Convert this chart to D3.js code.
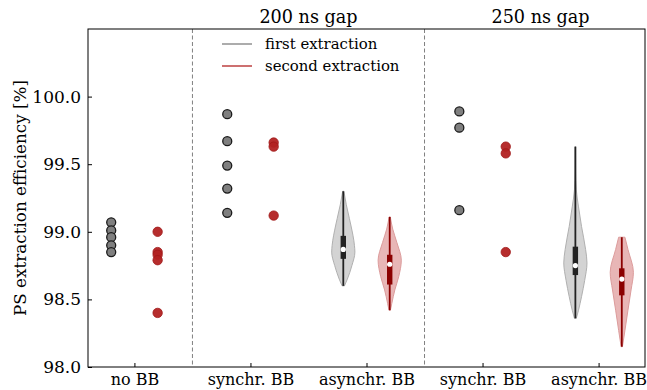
<!DOCTYPE html>
<html>
<head>
<meta charset="utf-8">
<script src="https://cdn.jsdelivr.net/npm/d3@7/dist/d3.min.js"></script>
<style>
  html, body { margin: 0; padding: 0; background: #fff; }
  svg { display: block; font-family: "DejaVu Serif", serif; }
</style>
</head>
<body>
<svg id="chart" width="647" height="390"></svg>
<script>
// Category slots along the x axis
const categories = ["no BB", "synchr. BB", "asynchr. BB", "synchr. BB", "asynchr. BB"];
const groupTitles = ["200 ns gap", "250 ns gap"];
const groupCenters = [1.5, 3.5];
const separators = [0.5, 2.5];
const yTicks = [98.0, 98.5, 99.0, 99.5, 100.0];
const legendLabels = ["first extraction", "second extraction"];

// Individual measurements (%)
const firstNoBB   = [99.07, 99.01, 98.96, 98.90, 98.85];
const secondNoBB  = [99.00, 98.85, 98.83, 98.79, 98.40];
const first200Sync  = [99.87, 99.67, 99.49, 99.32, 99.14];
const second200Sync = [99.66, 99.63, 99.12];
const first250Sync  = [99.89, 99.77, 99.16];
const second250Sync = [99.63, 99.58, 98.85];

// Violin summaries: min, q1, median, q3, max (%)
const first200Async  = [98.60, 98.80, 98.87, 98.97, 99.30];
const second200Async = [98.42, 98.61, 98.76, 98.83, 99.11];
const first250Async  = [98.36, 98.68, 98.75, 98.89, 99.63];
const second250Async = [98.15, 98.53, 98.65, 98.73, 98.96];

// Violin density profiles: [value, relative density]
const first200Profile  = [[98.60,0.10],[98.65,0.35],[98.75,0.74],[98.85,1.00],[98.90,0.96],[99.05,0.65],[99.10,0.52],[99.20,0.26],[99.30,0.05]];
const second200Profile = [[98.42,0.06],[98.47,0.18],[98.57,0.44],[98.67,0.78],[98.79,1.00],[98.92,0.62],[99.02,0.26],[99.11,0.05]];
const first250Profile  = [[98.36,0.08],[98.42,0.27],[98.52,0.53],[98.64,0.80],[98.77,1.00],[98.87,0.88],[99.04,0.53],[99.19,0.26],[99.31,0.08],[99.45,0.03],[99.63,0.02]];
const second250Profile = [[98.15,0.05],[98.17,0.09],[98.27,0.27],[98.42,0.53],[98.57,0.80],[98.70,1.00],[98.87,0.53],[98.96,0.27]];

const W = 647, H = 390;
const margin = { left: 88, right: 2, top: 29, bottom: 23 };
const svg = d3.select("#chart");

const x = d3.scaleLinear().domain([-0.4, 4.4]).range([margin.left, W - margin.right]);
const y = d3.scaleLinear().domain([98.0, 100.5]).range([H - margin.bottom, margin.top]);

const GREY = "#7f7f7f", RED = "#b22222";
const offset = 0.2;          // side offset of first / second extraction
const halfWidth = 0.1;       // max violin half width (x units)

// separators
svg.append("g").selectAll("line").data(separators).join("line")
  .attr("x1", d => x(d)).attr("x2", d => x(d))
  .attr("y1", y.range()[1]).attr("y2", y.range()[0])
  .attr("stroke", "#808080").attr("stroke-width", 1)
  .attr("stroke-dasharray", "4,2.5");

// violins
const violins = [
  { pos: 2 - offset, stats: first200Async,  profile: first200Profile,  fill: "#d3d3d3", edge: "#b0b0b0", core: "#222222" },
  { pos: 2 + offset, stats: second200Async, profile: second200Profile, fill: "#e8b6b6", edge: "#dc9c9c", core: "#8b0000" },
  { pos: 4 - offset, stats: first250Async,  profile: first250Profile,  fill: "#d3d3d3", edge: "#b0b0b0", core: "#222222" },
  { pos: 4 + offset, stats: second250Async, profile: second250Profile, fill: "#e8b6b6", edge: "#dc9c9c", core: "#8b0000" }
];
const vg = svg.append("g");
violins.forEach(v => {
  const px = (u) => x(u) - x(0);
  const area = d3.area()
    .y(d => y(d[0]))
    .x0(d => x(v.pos) - px(halfWidth) * d[1])
    .x1(d => x(v.pos) + px(halfWidth) * d[1])
    .curve(d3.curveMonotoneY);
  vg.append("path").datum(v.profile).attr("d", area)
    .attr("fill", v.fill).attr("stroke", v.edge).attr("stroke-width", 1);
  const [mn, q1, med, q3, mx] = v.stats;
  vg.append("line")
    .attr("x1", x(v.pos)).attr("x2", x(v.pos))
    .attr("y1", y(mn)).attr("y2", y(mx))
    .attr("stroke", v.core).attr("stroke-width", 1.8);
  vg.append("rect")
    .attr("x", x(v.pos) - 2.7).attr("width", 5.4)
    .attr("y", y(q3)).attr("height", y(q1) - y(q3))
    .attr("fill", v.core);
  vg.append("circle").attr("cx", x(v.pos)).attr("cy", y(med)).attr("r", 2.6).attr("fill", "#fff");
});

// scatter points
const firstSets  = [[0, firstNoBB], [1, first200Sync], [3, first250Sync]];
const secondSets = [[0, secondNoBB], [1, second200Sync], [3, second250Sync]];
const pg = svg.append("g");
firstSets.forEach(([c, vals]) => {
  pg.append("g").selectAll("circle").data(vals).join("circle")
    .attr("cx", x(c - offset)).attr("cy", d => y(d)).attr("r", 4.5)
    .attr("fill", GREY).attr("stroke", "#1a1a1a").attr("stroke-width", 1.3);
});
secondSets.forEach(([c, vals]) => {
  pg.append("g").selectAll("circle").data(vals).join("circle")
    .attr("cx", x(c + offset)).attr("cy", d => y(d)).attr("r", 4.7)
    .attr("fill", RED).attr("fill-opacity", 0.95)
    .attr("stroke", "#a01818").attr("stroke-width", 0.8);
});

// frame
svg.append("rect")
  .attr("x", x.range()[0]).attr("y", y.range()[1])
  .attr("width", x.range()[1] - x.range()[0]).attr("height", y.range()[0] - y.range()[1])
  .attr("fill", "none").attr("stroke", "#000").attr("stroke-width", 1);

// y axis with inward ticks
const yAxis = svg.append("g").attr("transform", `translate(${x.range()[0]},0)`)
  .call(d3.axisLeft(y).tickValues(yTicks).tickFormat(d3.format(".1f")).tickSizeInner(-4).tickSizeOuter(0).tickPadding(7));
yAxis.select(".domain").remove();
yAxis.selectAll("text").attr("font-size", 17).attr("font-family", "DejaVu Serif").attr("fill", "#000");
yAxis.selectAll("line").attr("stroke", "#000");

// x axis with inward ticks
const xAxis = svg.append("g").attr("transform", `translate(0,${y.range()[0]})`)
  .call(d3.axisBottom(x).tickValues(d3.range(categories.length)).tickFormat(i => categories[i]).tickSizeInner(-4).tickSizeOuter(0).tickPadding(7));
xAxis.select(".domain").remove();
xAxis.selectAll("text").attr("font-size", 16).attr("font-family", "DejaVu Serif").attr("fill", "#000");
xAxis.selectAll("line").attr("stroke", "#000");

// group titles
svg.append("g").selectAll("text").data(groupTitles).join("text")
  .attr("x", (d, i) => x(groupCenters[i])).attr("y", 23)
  .attr("text-anchor", "middle").attr("font-size", 17.6).text(d => d);

// y axis label
svg.append("text")
  .attr("transform", `translate(26,${(y.range()[0] + y.range()[1]) / 2}) rotate(-90)`)
  .attr("text-anchor", "middle").attr("font-size", 16.8)
  .text("PS extraction efficiency [%]");

// legend
const legendColors = [GREY, "#b22222"];
const lg = svg.append("g");
legendLabels.forEach((t, i) => {
  const ly = 44 + i * 22;
  lg.append("line").attr("x1", 222).attr("x2", 252).attr("y1", ly).attr("y2", ly)
    .attr("stroke", legendColors[i]).attr("stroke-width", 1.3);
  lg.append("text").attr("x", 265).attr("y", ly + 5).attr("font-size", 14.9).text(t);
});
</script>
</body>
</html>
